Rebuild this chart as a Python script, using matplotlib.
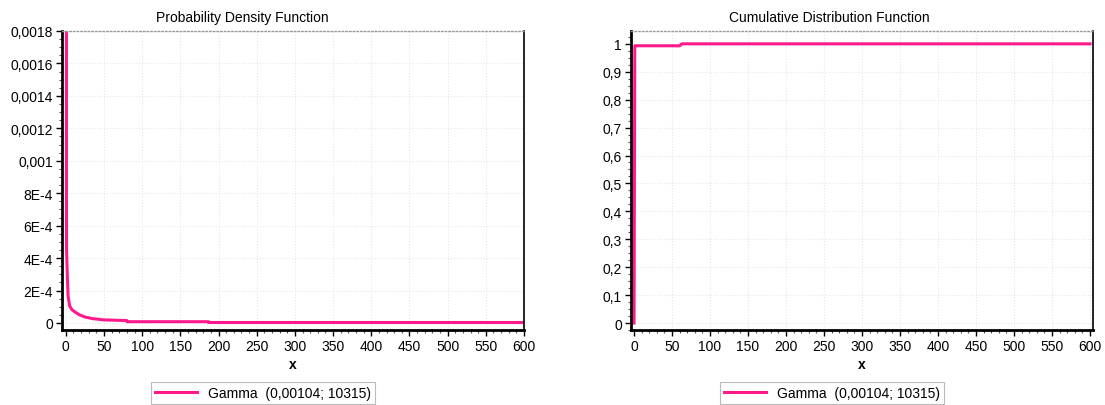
import matplotlib
matplotlib.use("Agg")
import matplotlib.pyplot as plt
from matplotlib.ticker import MultipleLocator

plt.rcParams['font.family'] = ['Liberation Sans', 'DejaVu Sans']

# PDF values
pdf_x = [0.8, 0.8, 1.0, 2.0, 3.0, 5.0, 8.0, 12.0, 18.0, 25.0, 35.0, 50.0, 65.0, 80.0, 80.0, 187.0, 187.0, 600.0]
pdf_y = [0.0019, 0.0008, 0.00045, 0.00029, 0.000166, 0.000105, 0.000082, 0.000068, 0.000050, 0.000037, 0.000027,
         0.000019, 0.000017, 0.000015, 0.000008, 0.000008, 0.000003, 0.000003]

# CDF values
cdf_x = [0.0, 0.5, 1.0, 60.0, 63.0, 600.0]
cdf_y = [0.0, 0.5, 0.993, 0.993, 1.0, 1.0]

legend_label = "Gamma  (0,00104; 10315)"
line_color = '#ff1a8c'

pdf_ticks = [0, 0.0002, 0.0004, 0.0006, 0.0008, 0.001, 0.0012, 0.0014, 0.0016, 0.0018]
pdf_labels = ['0', '2E-4', '4E-4', '6E-4', '8E-4', '0,001', '0,0012', '0,0014', '0,0016', '0,0018']
cdf_ticks = [0, 0.1, 0.2, 0.3, 0.4, 0.5, 0.6, 0.7, 0.8, 0.9, 1.0]
cdf_labels = ['0', '0,1', '0,2', '0,3', '0,4', '0,5', '0,6', '0,7', '0,8', '0,9', '1']
x_ticks = list(range(0, 601, 50))

fig = plt.figure(figsize=(11.05, 4.06), dpi=100)
ax1 = fig.add_axes([62/1105, 1-331/406, (524-62)/1105, (331-32)/406])
ax2 = fig.add_axes([631/1105, 1-331/406, (1093-631)/1105, (331-32)/406])


def style(ax, title, title_x):
    ax.text(title_x, 1.025, title, transform=ax.transAxes, ha='center', va='bottom', fontsize=10)
    ax.set_xlabel('x', fontsize=10, fontweight='bold', labelpad=3)
    ax.grid(True, color='#e6e6e6', linestyle=':', linewidth=0.8)
    ax.set_axisbelow(True)
    ax.spines['left'].set_linewidth(2)
    ax.spines['bottom'].set_linewidth(2)
    ax.spines['right'].set_linewidth(1.2)
    ax.spines['top'].set_color('#999999')
    ax.spines['top'].set_linestyle(':')
    ax.spines['top'].set_linewidth(1)
    ax.set_xticks(x_ticks)
    ax.xaxis.set_minor_locator(MultipleLocator(10))
    ax.tick_params(axis='both', which='major', labelsize=10, length=4, width=1, direction='out', pad=2.5)
    ax.tick_params(axis='both', which='minor', length=2.5, width=0.8, direction='out', color='#555555')
    leg = ax.legend(loc='upper center', bbox_to_anchor=(0.435, -0.15), frameon=True, fancybox=False,
                    fontsize=10, handlelength=3, borderpad=0.3, edgecolor='#aaaaaa')
    leg.get_frame().set_linewidth(0.8)


ax1.plot(pdf_x, pdf_y, color=line_color, linewidth=2.2, label=legend_label, solid_joinstyle='round')
ax1.set_xlim(-5, 600)
ax1.set_ylim(-0.0000432, 0.0018)
ax1.set_yticks(pdf_ticks)
ax1.set_yticklabels(pdf_labels)
ax1.yaxis.set_minor_locator(MultipleLocator(0.00005))
style(ax1, 'Probability Density Function', 0.39)

ax2.plot(cdf_x, cdf_y, color=line_color, linewidth=2.2, label=legend_label)
ax2.set_xlim(-4, 604)
ax2.set_ylim(-0.025, 1.046)
ax2.set_yticks(cdf_ticks)
ax2.set_yticklabels(cdf_labels)
ax2.yaxis.set_minor_locator(MultipleLocator(0.025))
style(ax2, 'Cumulative Distribution Function', 0.43)

fig.savefig('out.png', dpi=100)
